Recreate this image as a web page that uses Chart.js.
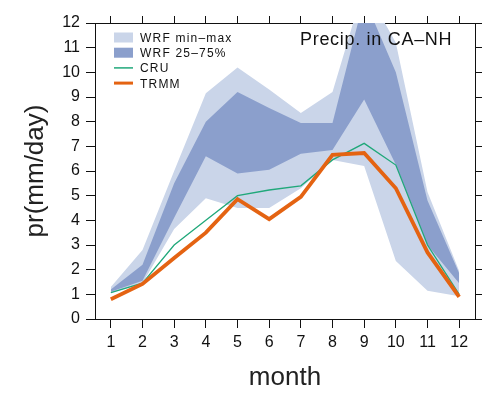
<!DOCTYPE html>
<html>
<head>
<meta charset="utf-8">
<script src="https://cdn.jsdelivr.net/npm/chart.js@4.4.1/dist/chart.umd.min.js"></script>
<style>
html,body{margin:0;padding:0;background:#fff;}
canvas{display:block;}
</style>
</head>
<body>
<canvas id="c" width="487" height="406"></canvas>
<script>
// ---- data ----
const months = ['1','2','3','4','5','6','7','8','9','10','11','12'];
const yTicks = [0,1,2,3,4,5,6,7,8,9,10,11,12];
const wrfMax = [1.3, 2.8, 6.0, 9.15, 10.2, 9.3, 8.35, 9.2, 13.5, 11.2, 5.15, 1.95];
const wrfMin = [1.05, 1.45, 3.65, 4.9, 4.5, 4.5, 5.3, 6.45, 6.2, 2.35, 1.15, 0.92];
const wrfP75 = [1.2, 2.2, 5.5, 8.0, 9.2, 8.55, 7.95, 7.95, 13.0, 10.0, 4.8, 1.85];
const wrfP25 = [1.1, 1.55, 4.1, 6.6, 5.9, 6.05, 6.7, 6.85, 8.9, 6.25, 3.0, 1.45];
const cru    = [1.07, 1.45, 3.0, 4.0, 5.0, 5.23, 5.4, 6.45, 7.12, 6.24, 3.0, 1.0];
const trmm   = [0.8, 1.42, 2.47, 3.5, 4.86, 4.05, 4.95, 6.65, 6.73, 5.3, 2.7, 0.9];

const LIGHT = 'rgb(202,213,233)';
const DARK  = 'rgb(139,159,204)';
const GREEN = 'rgb(32,168,122)';
const ORANGE= 'rgb(228,99,18)';
const FONT = '"Liberation Sans", Arial, Helvetica, sans-serif';

const legendItems = [
  {text:'WRF min\u2013max', type:'box', color:LIGHT},
  {text:'WRF 25\u201375%', type:'box', color:DARK},
  {text:'CRU', type:'line', color:GREEN, w:1.5},
  {text:'TRMM', type:'line', color:ORANGE, w:3}
];

const overlay = {
  id:'overlay',
  afterDatasetsDraw(chart){
    const ctx = chart.ctx;
    const a = chart.chartArea;
    ctx.save();
    // title
    ctx.fillStyle = '#111';
    ctx.font = '18px ' + FONT;
    ctx.textBaseline = 'alphabetic';
    ctx.textAlign = 'left';
    try { ctx.letterSpacing = '0.7px'; } catch(e){}
    ctx.fillText('Precip. in CA\u2013NH', a.left + 205, a.top + 22);
    // legend
    ctx.font = '12px ' + FONT;
    try { ctx.letterSpacing = '1.2px'; } catch(e){}
    const x0 = a.left + 19, x1 = a.left + 38, tx = a.left + 45;
    legendItems.forEach((it, i) => {
      const base = a.top + 19 + i*15.2;
      if (it.type === 'box') {
        ctx.fillStyle = it.color;
        ctx.fillRect(x0, base - 9.5, x1 - x0, 10);
      } else {
        ctx.strokeStyle = it.color;
        ctx.lineWidth = it.w;
        ctx.beginPath();
        ctx.moveTo(x0, base - 4.5);
        ctx.lineTo(x1, base - 4.5);
        ctx.stroke();
      }
      ctx.fillStyle = '#111';
      ctx.fillText(it.text, tx, base);
    });
    ctx.restore();
  }
};

const band = (data, color, fill, order) => ({
  data, fill, order,
  backgroundColor: color, borderWidth: 0, borderColor: 'transparent',
  pointRadius: 0, tension: 0
});

new Chart(document.getElementById('c'), {
  type: 'line',
  data: {
    labels: months,
    datasets: [
      band(wrfMax, LIGHT, 1, 6),
      band(wrfMin, LIGHT, false, 5),
      band(wrfP75, DARK, 3, 4),
      band(wrfP25, DARK, false, 3),
      {data: cru, borderColor: GREEN, borderWidth: 1.3, pointRadius: 0, fill: false, order: 2, tension: 0},
      {data: trmm, borderColor: ORANGE, borderWidth: 3.8, pointRadius: 0, fill: false, order: 1, tension: 0, borderJoinStyle: 'miter'}
    ]
  },
  options: {
    responsive: false,
    animation: false,
    devicePixelRatio: 1,
    layout: {padding: 0},
    plugins: {legend: {display: false}, tooltip: {enabled: false}},
    scales: {
      x: {
        type: 'category', position: 'bottom', offset: true,
        grid: {offset: false, drawOnChartArea: false, color: '#111', tickLength: 9, lineWidth: 1},
        border: {display: true, color: '#111', width: 1},
        ticks: {color: '#111', font: {family: FONT, size: 16}, padding: 5, maxRotation: 0, autoSkip: false},
        title: {display: true, text: 'month', color: '#222', font: {family: FONT, size: 26}, padding: {top: 0, bottom: 12.4}},
        afterFit(s){ s.height = 87; }
      },
      x2: {
        type: 'category', position: 'top', offset: true, labels: months,
        grid: {offset: false, drawOnChartArea: false, color: '#111', tickLength: 7, lineWidth: 1},
        border: {display: true, color: '#111', width: 1},
        ticks: {display: false, autoSkip: false},
        afterFit(s){ s.height = 23; }
      },
      y: {
        type: 'linear', position: 'left', min: 0, max: 12,
        afterBuildTicks(s){ s.ticks = yTicks.map(v => ({value: v})); },
        grid: {drawOnChartArea: false, color: '#111', tickLength: 9, lineWidth: 1},
        border: {display: true, color: '#111', width: 1},
        ticks: {color: '#111', font: {family: FONT, size: 16}, padding: 6, stepSize: 1},
        title: {display: true, text: 'pr(mm/day)', color: '#222', font: {family: FONT, size: 26}, padding: {top: 20.4, bottom: 0}},
        afterFit(s){ s.width = 95; }
      },
      y2: {
        type: 'linear', position: 'right', min: 0, max: 12,
        afterBuildTicks(s){ s.ticks = yTicks.map(v => ({value: v})); },
        grid: {drawOnChartArea: false, color: '#111', tickLength: 7, lineWidth: 1},
        border: {display: true, color: '#111', width: 1},
        ticks: {display: false},
        afterFit(s){ s.width = 12; }
      }
    }
  },
  plugins: [overlay]
});
</script>
</body>
</html>
